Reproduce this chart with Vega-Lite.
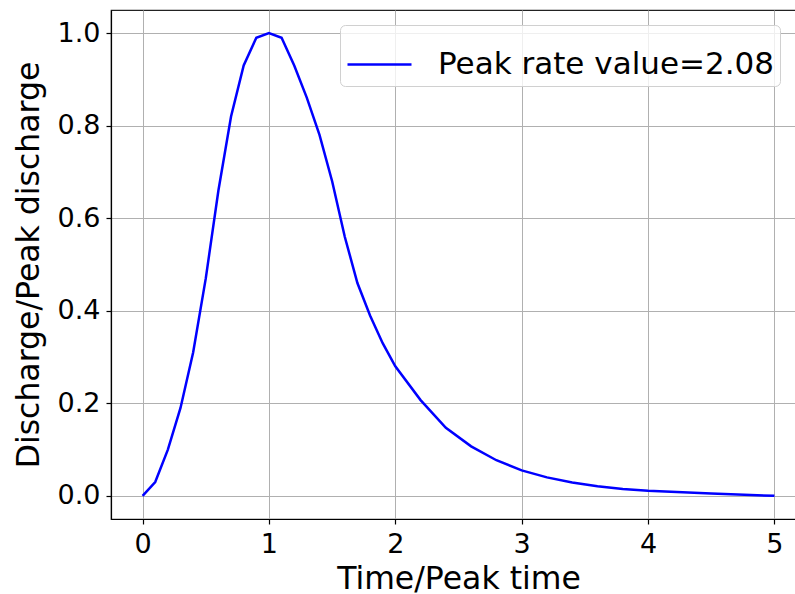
{
  "$schema": "https://vega.github.io/schema/vega-lite/v6.json",
  "autosize": "none",
  "width": 695,
  "height": 509,
  "padding": {"left": 111, "top": 10, "right": 0, "bottom": 75},
  "background": "white",
  "config": {
    "font": "DejaVu Sans",
    "view": {"stroke": "#222", "strokeWidth": 1.2},
    "axis": {
      "labelFont": "DejaVu Sans",
      "titleFont": "DejaVu Sans",
      "labelFontSize": 27,
      "titleFontSize": 31.5,
      "titleFontWeight": "normal",
      "labelColor": "black",
      "titleColor": "black",
      "gridColor": "#b0b0b0",
      "gridWidth": 1,
      "domainColor": "black",
      "domainWidth": 1.2,
      "tickColor": "black",
      "tickSize": 5,
      "tickWidth": 1.2
    }
  },
  "data": {
    "values": [
      {"t": 0.0, "q": 0.0},
      {"t": 0.1, "q": 0.03},
      {"t": 0.2, "q": 0.1},
      {"t": 0.3, "q": 0.19},
      {"t": 0.4, "q": 0.31},
      {"t": 0.5, "q": 0.47},
      {"t": 0.6, "q": 0.66},
      {"t": 0.7, "q": 0.82},
      {"t": 0.8, "q": 0.93},
      {"t": 0.9, "q": 0.99},
      {"t": 1.0, "q": 1.0},
      {"t": 1.1, "q": 0.99},
      {"t": 1.2, "q": 0.93},
      {"t": 1.3, "q": 0.86},
      {"t": 1.4, "q": 0.78},
      {"t": 1.5, "q": 0.68},
      {"t": 1.6, "q": 0.56},
      {"t": 1.7, "q": 0.46},
      {"t": 1.8, "q": 0.39},
      {"t": 1.9, "q": 0.33},
      {"t": 2.0, "q": 0.28},
      {"t": 2.2, "q": 0.207},
      {"t": 2.4, "q": 0.147},
      {"t": 2.6, "q": 0.107},
      {"t": 2.8, "q": 0.077},
      {"t": 3.0, "q": 0.055},
      {"t": 3.2, "q": 0.04},
      {"t": 3.4, "q": 0.029},
      {"t": 3.6, "q": 0.021},
      {"t": 3.8, "q": 0.015},
      {"t": 4.0, "q": 0.011},
      {"t": 4.5, "q": 0.005},
      {"t": 5.0, "q": 0.0}
    ]
  },
  "mark": {"type": "line", "strokeWidth": 2.5},
  "encoding": {
    "x": {
      "field": "t",
      "type": "quantitative",
      "scale": {"domain": [-0.25, 5.25], "nice": false, "zero": false},
      "axis": {"values": [0, 1, 2, 3, 4, 5], "format": "d", "title": "Time/Peak time", "labelPadding": 7, "titlePadding": 6}
    },
    "y": {
      "field": "q",
      "type": "quantitative",
      "scale": {"domain": [-0.05, 1.05], "nice": false, "zero": false},
      "axis": {"values": [0, 0.2, 0.4, 0.6, 0.8, 1.0], "format": ".1f", "title": "Discharge/Peak discharge", "labelPadding": 6, "titlePadding": 12}
    },
    "color": {
      "datum": "Peak rate value=2.08",
      "type": "nominal",
      "scale": {"range": ["blue"]},
      "legend": {
        "title": null,
        "orient": "none",
        "legendX": 229,
        "legendY": 15,
        "symbolType": "stroke",
        "symbolSize": 4096,
        "symbolStrokeWidth": 2.5,
        "labelFontSize": 31,
        "labelFont": "DejaVu Sans",
        "labelColor": "black",
        "labelLimit": 600,
        "labelOffset": 25,
        "padding": 6,
        "strokeColor": "#d0d0d0",
        "fillColor": "rgba(255,255,255,0.8)",
        "cornerRadius": 5
      }
    }
  }
}
